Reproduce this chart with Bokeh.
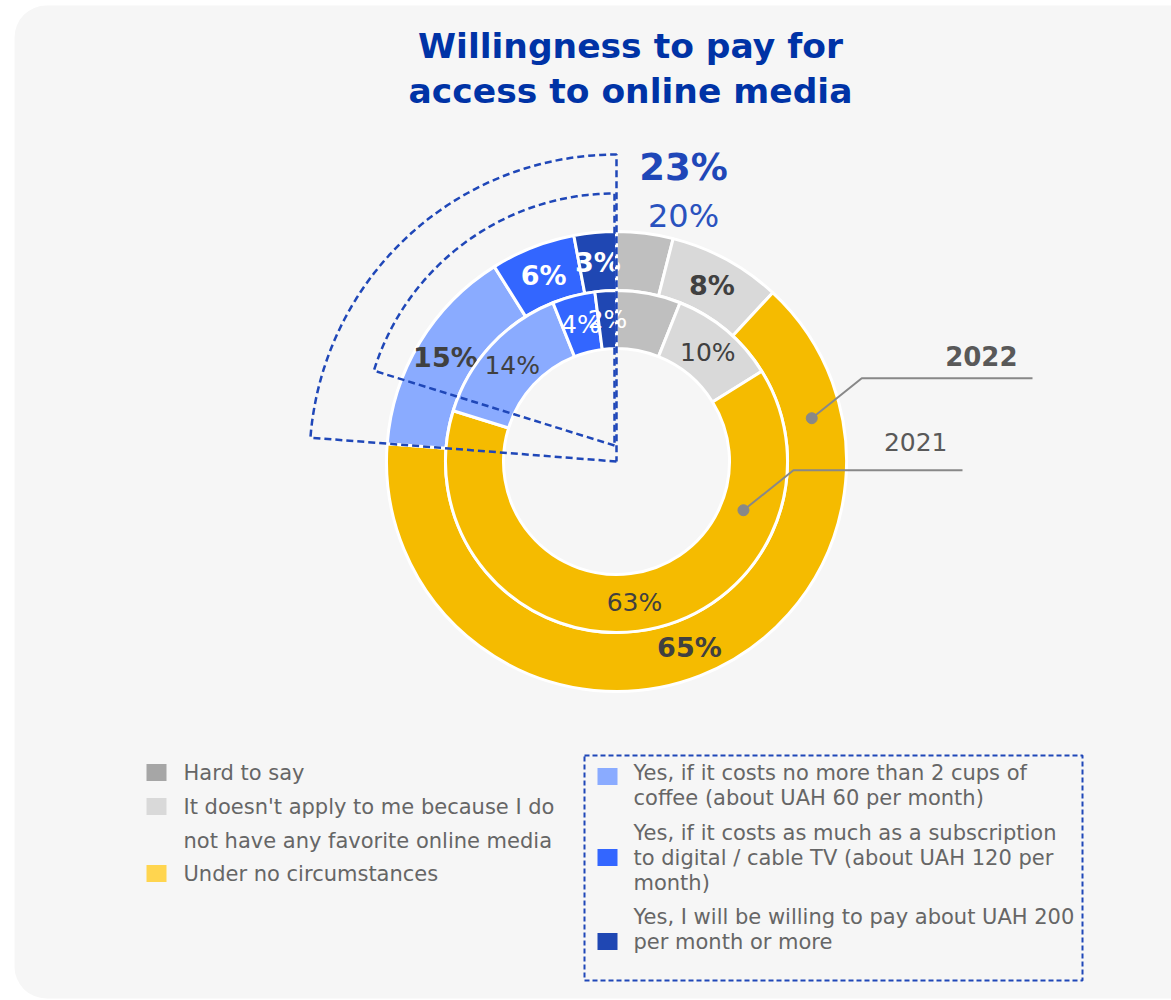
import math
import numpy as np
from bokeh.plotting import figure
from bokeh.models import Range1d, BoxAnnotation, ColumnDataSource
from bokeh.core.properties import value
from bokeh.embed import file_html
from bokeh.resources import INLINE

# ---------------- data ----------------
categories = [
    "Hard to say",
    "It doesn't apply to me because I do not have any favorite online media",
    "Under no circumstances",
    "Yes, if it costs no more than 2 cups of coffee (about UAH 60 per month)",
    "Yes, if it costs as much as a subscription to digital / cable TV (about UAH 120 per month)",
    "Yes, I will be willing to pay about UAH 200 per month or more",
]
values_2022 = [4, 8, 65, 15, 6, 3]
values_2021 = [6, 10, 63, 14, 4, 2]
show_label = [False, True, True, True, True, True]
yes_total_2022 = "23%"
yes_total_2021 = "20%"
years = ["2022", "2021"]
title_lines = ["Willingness to pay for", "access to online media"]
legend_left = [["Hard to say"],
               ["It doesn't apply to me because I do", "not have any favorite online media"],
               ["Under no circumstances"]]
legend_right = [["Yes, if it costs no more than 2 cups of", "coffee (about UAH 60 per month)"],
                ["Yes, if it costs as much as a subscription", "to digital / cable TV (about UAH 120 per", "month)"],
                ["Yes, I will be willing to pay about UAH 200", "per month or more"]]

# ---------------- styles ----------------
ring_colors = ["#bfbfbf", "#d9d9d9", "#f5bb00", "#8aabff", "#3366ff", "#1f47b3"]
legend_colors = ["#a6a6a6", "#d9d9d9", "#ffd54f", "#8aabff", "#3366ff", "#1f47b3"]
label_colors = ["#404040", "#404040", "#404040", "#404040", "#ffffff", "#ffffff"]
BLUE = "#1f47b8"
FONT = "DejaVu Sans"
LEG_SIZE = "21px"

W, H = 1171, 1000
p = figure(width=W, height=H, output_backend="svg", toolbar_location=None,
           x_range=Range1d(-616, 555), y_range=Range1d(-539, 461),
           min_border=0)
p.axis.visible = False
p.grid.visible = False
p.outline_line_color = None
p.background_fill_color = "white"
p.border_fill_color = "white"

p.add_layout(BoxAnnotation(left=-602, right=700, top=456, bottom=-537,
                           fill_color="#f6f6f6", fill_alpha=1, line_color=None,
                           border_radius=32, level="underlay"))


def ring(vals, r_in, r_out, mid_r, bold, size):
    vals = np.array(vals, dtype=float)
    cum = np.concatenate([[0], np.cumsum(vals)]) / vals.sum()
    start = np.pi / 2 - 2 * np.pi * cum[1:]
    end = np.pi / 2 - 2 * np.pi * cum[:-1]
    src = ColumnDataSource(dict(start=start, end=end, color=ring_colors))
    p.annular_wedge(x=0, y=0, inner_radius=r_in, outer_radius=r_out,
                    start_angle="start", end_angle="end", fill_color="color",
                    line_color="white", line_width=3, source=src)
    mid = (cum[1:] + cum[:-1]) / 2 * 2 * np.pi
    lx, ly, lt, lc = [], [], [], []
    for i, v in enumerate(vals):
        if not show_label[i]:
            continue
        lx.append(mid_r * math.sin(mid[i]))
        ly.append(mid_r * math.cos(mid[i]))
        lt.append(f"{int(v)}%")
        lc.append(label_colors[i])
    p.text(x=lx, y=ly, text=lt, text_color=lc, text_align="center",
           text_baseline="middle", text_font=value(FONT),
           text_font_style="bold" if bold else "normal",
           text_font_size=value(size))
    return cum


cum22 = ring(values_2022, 171, 230, 200, True, "27px")
cum21 = ring(values_2021, 113, 171, 142, False, "25px")


# dashed sectors around the "yes" shares
def dashed_sector(cx, cy, r, frac_start):
    th = np.linspace(frac_start * 2 * np.pi, 2 * np.pi, 60)
    xs = [cx] + list(cx + r * np.sin(th)) + [cx]
    ys = [cy] + list(cy + r * np.cos(th)) + [cy]
    p.line(xs, ys, line_color=BLUE, line_width=2.5, line_dash="7 4")


dashed_sector(0, 0, 307, cum22[3])
dashed_sector(-2, 16, 252, cum21[3])

p.text(x=[67], y=[294], text=[yes_total_2022], text_color=BLUE, text_font=value(FONT),
       text_font_style="bold", text_font_size=value("37px"), text_align="center",
       text_baseline="middle")
p.text(x=[67], y=[246], text=[yes_total_2021], text_color="#2a52be", text_font=value(FONT),
       text_font_size=value("32px"), text_align="center", text_baseline="middle")

# year leader lines
for yr, ang, r, xend, bold, lbl_y in [(years[0], 77.5, 200, 416, True, 106),
                                      (years[1], 111.0, 136, 346, False, 20)]:
    a = math.radians(ang)
    dx, dy = r * math.sin(a), r * math.cos(a)
    p.line([dx, dx + 50, xend], [dy, dy + 40, dy + 40], line_color="#888888", line_width=2)
    p.scatter([dx], [dy], size=11, color="#888888")
    p.text(x=[xend - 15], y=[lbl_y], text=[yr], text_color="#595959", text_font=value(FONT),
           text_font_style="bold" if bold else "normal",
           text_font_size=value("26px" if bold else "25px"),
           text_align="right", text_baseline="middle")

# title
p.text(x=[14, 14], y=[416, 371], text=title_lines, text_color="#0033a6",
       text_font=value(FONT), text_font_style="bold", text_font_size=value("34.5px"),
       text_align="center", text_baseline="middle")

# legend left
ly = [[-311], [-345, -379], [-412]]
for i, lines in enumerate(legend_left):
    p.rect(x=[-460], y=[ly[i][0]], width=20, height=17, fill_color=legend_colors[i], line_color=None)
    p.text(x=[-433] * len(lines), y=ly[i], text=lines, text_color="#666666",
           text_font=value(FONT), text_font_size=value(LEG_SIZE), text_baseline="middle")

# legend right
ry = [[-311, -336], [-371, -396, -421], [-455, -480]]
sq = [-315, -396, -480]
for i, lines in enumerate(legend_right):
    p.rect(x=[-9], y=[sq[i]], width=20, height=17, fill_color=legend_colors[3 + i], line_color=None)
    p.text(x=[17] * len(lines), y=ry[i], text=lines, text_color="#666666",
           text_font=value(FONT), text_font_size=value(LEG_SIZE), text_baseline="middle")

p.quad(left=[-32], right=[466], top=[-294], bottom=[-519], fill_color=None,
       line_color=BLUE, line_width=2, line_dash="5 3")

open("out.html", "w").write(file_html(p, INLINE))
